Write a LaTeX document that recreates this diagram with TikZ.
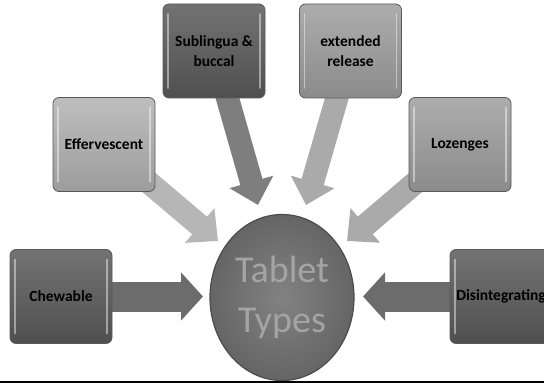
\documentclass[tikz,border=0pt]{standalone}
\usepackage{fontspec}
\setmainfont{Carlito}
\usetikzlibrary{positioning,shapes.geometric,arrows.meta}
\pgfdeclarelayer{back}
\pgfsetlayers{back,main}

\definecolor{boxdark}{HTML}{5A5A5A}
\definecolor{boxlight}{HTML}{B2B2B2}
\definecolor{boxmid}{HTML}{9E9E9E}
\definecolor{arrdark}{HTML}{6C6C6C}
\definecolor{arrsub}{HTML}{7E7E7E}
\definecolor{arrlight}{HTML}{B6B6B6}
\definecolor{arrmid}{HTML}{AAAAAA}
\definecolor{pillin}{HTML}{828282}
\definecolor{pillout}{HTML}{656565}
\definecolor{pilltext}{HTML}{A4A4A4}

\begin{document}
\begin{tikzpicture}[x=1pt,y=-1pt,
    tbox/.style={rounded corners=6pt, minimum width=102pt, minimum height=94pt,
        inner sep=2pt, align=center, draw=black!65, line width=0.8pt,
        font=\bfseries\fontsize{15.5}{20}\selectfont,
        top color=#1!85!white, bottom color=#1!88!black,
        path picture={
            \draw[white,opacity=.45,line width=1.6pt,line cap=round]
                ([xshift=5pt,yshift=-10pt]path picture bounding box.north west)
                -- ([xshift=5pt,yshift=10pt]path picture bounding box.south west);
            \draw[white,opacity=.45,line width=1.6pt,line cap=round]
                ([xshift=-5pt,yshift=-10pt]path picture bounding box.north east)
                -- ([xshift=-5pt,yshift=10pt]path picture bounding box.south east);
        }},
    hfat/.style={draw=#1, line width=30pt, -{Triangle[width=47pt,length=22pt]}},
    dfat/.style={draw=#1, line width=23pt, -{Triangle[width=44pt,length=24pt]}}]
    \useasboundingbox (0,0) rectangle (544,385);
    \clip (0,0) rectangle (544,385);

    % Tablet in the middle
    \node[ellipse, minimum width=144pt, minimum height=166pt, inner sep=0pt,
        inner color=pillin, outer color=pillout, draw=black!70, line width=1.2pt]
        (tt) at (282,297.5) {};
    \node[font=\fontsize{38}{50}\selectfont, text=pilltext, align=center]
        (ttname) at (tt) {Tablet\\Types};

    % Types around it
    \node[tbox=boxdark]  (chew) at (61,296.5)  {Chewable};
    \node[tbox=boxlight] (eff)  at (104,144.5) {Effervescent};
    \node[tbox=boxdark]  (sub)  at (214,51)    {Sublingua \&\\buccal};
    \node[tbox=boxmid]   (ext)  at (350.5,51)  {extended\\release};
    \node[tbox=boxmid]   (loz)  at (460,144.5) {Lozenges};
    \node[tbox=boxdark]  (dis)  at (501,296.5) {Disintegrating};

    % Arrow tips at the tablet
    \coordinate (tipC) at (203,296.5);
    \coordinate (tipE) at (218,241);
    \coordinate (tipS) at (258,205);
    \coordinate (tipX) at (306,205);
    \coordinate (tipL) at (347,241);
    \coordinate (tipD) at (363,296.5);

    \begin{pgfonlayer}{back}
        \draw[hfat=arrdark]  (chew.center) -- (tipC);
        \draw[dfat=arrlight] (eff.center)  -- (tipE);
        \draw[dfat=arrsub]   (sub.center)  -- (tipS);
        \draw[dfat=arrmid]   (ext.center)  -- (tipX);
        \draw[dfat=arrmid]   (loz.center)  -- (tipL);
        \draw[hfat=arrdark]  (dis.center)  -- (tipD);
    \end{pgfonlayer}

    \draw[line width=2pt] (0,382) -- (544,382);
\end{tikzpicture}
\end{document}
